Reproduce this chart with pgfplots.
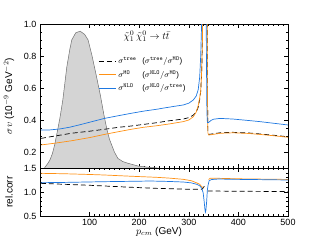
\documentclass[border=0pt]{standalone}
\usepackage{fontspec}
\setmainfont{Liberation Sans}
\usepackage{pgfplots}
\pgfplotsset{compat=1.18}
\definecolor{cblue}{RGB}{30,120,225}
\definecolor{corange}{RGB}{255,145,20}
\definecolor{cfill}{RGB}{212,212,212}
\definecolor{cedge}{RGB}{110,110,110}
\newcommand{\lbox}[1]{\hbox to 24pt{#1\hfil}}
\pgfplotsset{mystyle/.style={
  scale only axis, width=248pt, xmin=0, xmax=500,
  xtick={100,200,300,400,500}, minor x tick num=9,
  major tick length=4pt, minor tick length=2pt,
  tick style={black, line width=0.5pt},
  tick label style={font=\fontsize{9}{10}\selectfont},
  /pgf/number format/assume math mode=true,
  /pgf/number format/fixed, /pgf/number format/fixed zerofill, /pgf/number format/precision=1,
  label style={font=\fontsize{10}{12}\selectfont},
  axis line style={line width=0.6pt},
}}
\begin{document}
\begin{tikzpicture}
\useasboundingbox (-40pt,-24pt) rectangle (280pt,216pt);
\begin{axis}[mystyle, at={(0pt,48pt)}, anchor=south west, height=144pt,
  ymin=0.1, ymax=1.0, ytick={0.2,0.4,0.6,0.8,1.0}, minor y tick num=3,
  xticklabels={},
  ylabel={$\sigma v$ (10$^{-9}$ GeV$^{-2}$)},
  y label style={at={(axis description cs:-0.125,0.5)}, anchor=center},
  legend style={at={(axis description cs:0.235,0.785)}, anchor=north west, draw=none, fill=none,
    font=\fontsize{8}{9.5}\selectfont, row sep=1.5pt, inner sep=0pt},
  legend cell align=left,
]
\addplot[fill=cfill, draw=cedge, line width=0.5pt, forget plot] coordinates {
(8,0.0) (8,0.09) (10,0.105) (15,0.125) (20,0.15) (25,0.19) (30,0.25) (35,0.33) (40,0.41) (46,0.525)
(54,0.73) (60,0.84) (64,0.90) (72,0.945) (81,0.955) (90,0.935) (97,0.90) (105,0.80)
(114,0.67) (122,0.55) (129,0.43) (135,0.34) (140,0.28) (150,0.20) (157,0.16) (167,0.14)
(177,0.13) (198,0.112) (220,0.104) (240,0.099) (240,0.0)
};
\addplot[black, line width=0.7pt, dash pattern=on 5pt off 3pt] coordinates {
(2,0.285) (30,0.30) (63,0.317) (100,0.33) (130,0.342) (160,0.355) (184,0.3625) (210,0.373)
(235,0.383) (260,0.395) (289,0.406) (300,0.415) (309,0.43) (315,0.45) (319,0.48) (322,0.53)
(324,0.58) (326,0.70) (327.5,0.90) (329,1.3) (331,2.0) (336,2.0) (337.5,0.6) (338.5,0.33)
(340,0.31) (345,0.312) (363,0.32) (389,0.323) (420,0.319) (443,0.313) (470,0.305) (500,0.295)
};
\addlegendentry{\lbox{$\sigma^{\mathtt{tree}}$}($\sigma^{\mathtt{tree}}/\sigma^{\mathtt{MO}}$)}
\addplot[corange, line width=0.7pt] coordinates {
(2,0.244) (30,0.255) (63,0.27) (100,0.29) (130,0.31) (160,0.328) (184,0.342) (210,0.355)
(235,0.364) (260,0.375) (289,0.39) (300,0.40) (309,0.42) (315,0.45) (319,0.49) (322,0.54)
(324,0.58) (326,0.71) (327.5,0.90) (329,1.3) (331,2.0) (336,2.0) (337.5,0.6) (338.5,0.32)
(340,0.306) (345,0.308) (363,0.317) (389,0.32) (420,0.316) (443,0.31) (470,0.302) (500,0.292)
};
\addlegendentry{\lbox{$\sigma^{\mathtt{MO}}$}($\sigma^{\mathtt{NLO}}/\sigma^{\mathtt{MO}}$)}
\addplot[cblue, line width=0.7pt] coordinates {
(2,0.337) (20,0.338) (40,0.344) (60,0.355) (80,0.370) (100,0.386) (130,0.410) (160,0.428)
(184,0.442) (210,0.456) (235,0.467) (250,0.475) (270,0.485) (289,0.494) (300,0.505)
(309,0.525) (315,0.55) (319,0.59) (322,0.67) (324,0.80) (326,1.02) (328,1.5) (329,2.0)
(334,2.0) (335.5,0.8) (336.5,0.45) (337.5,0.385) (340,0.385) (345,0.398) (350,0.405)
(363,0.41) (389,0.406) (420,0.397) (443,0.39) (470,0.38) (500,0.369)
};
\addlegendentry{\lbox{$\sigma^{\mathtt{NLO}}$}($\sigma^{\mathtt{NLO}}/\sigma^{\mathtt{tree}}$)}
\node[font=\normalsize] at (axis description cs:0.43,0.915) {$\tilde\chi_1^0\,\tilde\chi_1^0\to t\bar t$};
\end{axis}
\begin{axis}[mystyle, at={(0pt,0pt)}, anchor=south west, height=48pt,
  ymin=0.5, ymax=1.5, ytick={0.5,1.0,1.5}, minor y tick num=4,
  unbounded coords=jump,
  xlabel={$p_{cm}$ (GeV)}, ylabel={rel.corr},
  xticklabel style={/pgf/number format/precision=0},
  x label style={at={(axis description cs:0.48,-0.33)}, anchor=center},
  y label style={at={(axis description cs:-0.125,0.5)}, anchor=center},
]
\addplot[black, line width=0.7pt, dash pattern=on 5pt off 3pt] coordinates {
(2,1.18) (50,1.16) (100,1.14) (130,1.125) (180,1.10) (235,1.076) (289,1.06) (323,1.055)
(327,1.06) (330,1.10) (332,1.13) (333,nan) (338,1.02) (350,1.02) (400,1.015) (500,1.01)
};
\addplot[corange, line width=0.7pt] coordinates {
(2,1.389) (50,1.38) (100,1.365) (130,1.354) (180,1.33) (235,1.306) (260,1.29) (289,1.264)
(305,1.235) (316,1.19) (322,1.16) (326,1.11) (329,1.09) (331,nan) (340,1.26) (343,1.285)
(360,1.285) (400,1.275) (450,1.268) (500,1.262)
};
\addplot[cblue, line width=0.7pt] coordinates {
(2,1.194) (50,1.20) (130,1.215) (200,1.225) (222,1.229) (260,1.22) (289,1.208) (305,1.19)
(316,1.16) (322,1.13) (326,1.08) (329,0.98) (331,0.80) (332.6,0.63) (333.5,0.58)
(334.5,0.62) (336,0.80) (337.5,1.05) (339,1.15) (341,1.235) (346,1.26) (360,1.27)
(390,1.264) (450,1.257) (500,1.25)
};
\end{axis}
\end{tikzpicture}
\end{document}
